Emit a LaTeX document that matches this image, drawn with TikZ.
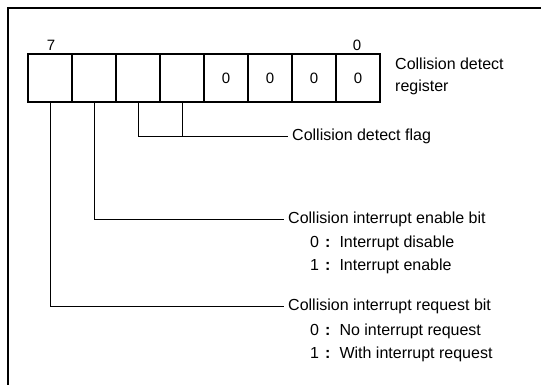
\documentclass[tikz,border=0pt]{standalone}
\usepackage{fontspec}
\setmainfont{Liberation Sans}
\begin{document}
\begin{tikzpicture}[x=1pt,y=-1pt,
  cell/.style={draw,line width=2.4pt,minimum width=44pt,minimum height=48pt,inner sep=0pt,font=\fontsize{15}{17}\selectfont},
  lbl/.style={anchor=west,inner sep=0pt,font=\fontsize{16}{18}\selectfont},
  num/.style={inner sep=0pt,font=\fontsize{15}{17}\selectfont},
  conn/.style={line width=0.8pt}]
\useasboundingbox (0,0) rectangle (544,385);
\draw[line width=2.6pt] (8,386) -- (8,8) -- (541,8);
% register cells
\foreach \i/\t in {7/,6/,5/,4/,3/0,2/0,1/0,0/0}{
  \node[cell] (c\i) at ({28+44*(7-\i)+22},78) {\t};
}
\node[num] (n7) at (51,45) {7};
\node[num] (n0) at (357,45) {0};
\node[lbl] (reg1) at (395,64) {Collision detect};
\node[lbl] (reg2) at (395,87) {register};
% labels
\node[lbl] (flag) at (292,136) {Collision detect flag};
\node[lbl] (enable) at (288,219) {Collision interrupt enable bit};
\node[lbl] (en0) at (310,243) {\makebox[15pt][l]{0}\textbf{:}\hspace{9pt}Interrupt disable};
\node[lbl] (en1) at (310,266) {\makebox[15pt][l]{1}\textbf{:}\hspace{9pt}Interrupt enable};
\node[lbl] (req) at (288,306) {Collision interrupt request bit};
\node[lbl] (rq0) at (310,331) {\makebox[15pt][l]{0}\textbf{:}\hspace{9pt}No interrupt request};
\node[lbl] (rq1) at (310,354) {\makebox[15pt][l]{1}\textbf{:}\hspace{9pt}With interrupt request};
% connectors
\draw[conn] (c5.south) |- ([xshift=-4pt]flag.west);
\draw[conn] (c4.south) -- (c4.south |- flag.west);
\draw[conn] (c6.south) |- ([xshift=-4pt]enable.west);
\draw[conn] (c7.south) |- ([xshift=-4pt]req.west);
\end{tikzpicture}
\end{document}
